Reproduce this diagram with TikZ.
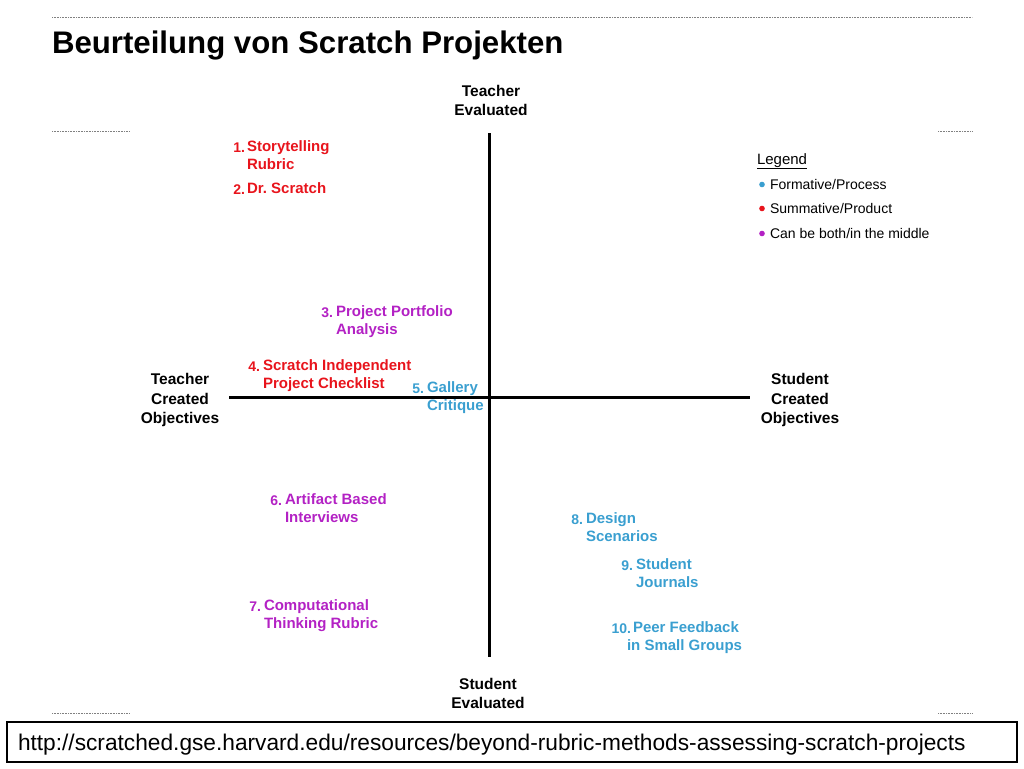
\documentclass[tikz,border=0pt]{standalone}
\usepackage{fontspec}
\setmainfont{Liberation Sans}
\definecolor{cred}{HTML}{E8141C}
\definecolor{cpurple}{HTML}{B321C4}
\definecolor{cblue}{HTML}{3A9FD0}
\begin{document}
\begin{tikzpicture}[x=1pt,y=-1pt,
  every node/.style={inner sep=0pt,outer sep=0pt},
  axlabel/.style={font=\bfseries\fontsize{15.5}{19.5}\selectfont,align=center,anchor=base},
  itemtext/.style={font=\bfseries\fontsize{15}{18}\selectfont,align=left,anchor=base west},
  itemnum/.style={font=\bfseries\fontsize{14}{18}\selectfont,anchor=base east},
  legtext/.style={font=\fontsize{14}{17}\selectfont,anchor=base west},
  dotline/.style={gray,line width=0.8pt,dash pattern=on 0.8pt off 0.8pt},
  axis/.style={line width=3pt}]
\useasboundingbox (0,0) rectangle (1024,768);
% dotted guides
\coordinate (t1) at (52,17); \coordinate (t2) at (972,17);
\draw[dotline] (t1) -- (t2);
\coordinate (l1a) at (52,131); \coordinate (l1b) at (130,131);
\coordinate (r1a) at (938,131); \coordinate (r1b) at (972,131);
\draw[dotline] (l1a) -- (l1b);
\draw[dotline] (r1a) -- (r1b);
\coordinate (l2a) at (52,713); \coordinate (l2b) at (130,713);
\coordinate (r2a) at (938,713); \coordinate (r2b) at (972,713);
\draw[dotline] (l2a) -- (l2b);
\draw[dotline] (r2a) -- (r2b);
% title
\node[anchor=base west,font=\bfseries\fontsize{31.2}{36}\selectfont] (title) at (52,53.5) {Beurteilung von Scratch Projekten};
% axes
\coordinate (vtop) at (489,133); \coordinate (vbot) at (489,657);
\coordinate (hleft) at (229,397); \coordinate (hright) at (750,397);
\draw[axis] (vtop) -- (vbot);
\draw[axis] (hleft) -- (hright);
% axis labels (base anchor = last line)
\node[axlabel] (te) at (491,115.5) {Teacher\\Evaluated};
\node[axlabel] (se) at (488,708.5) {Student\\Evaluated};
\node[axlabel] (tco) at (180,423.5) {Teacher\\Created\\Objectives};
\node[axlabel] (sco) at (800,423.5) {Student\\Created\\Objectives};
% items (base anchor = last line)
\node[itemnum,text=cred] (k1) at (245,152.5) {1.};
\node[itemtext,text=cred] (i1) at (247,169.5) {Storytelling\\Rubric};
\node[itemnum,text=cred] (k2) at (245,194.5) {2.};
\node[itemtext,text=cred] (i2) at (247,193.5) {Dr.\ Scratch};
\node[itemnum,text=cpurple] (k3) at (333,317.5) {3.};
\node[itemtext,text=cpurple] (i3) at (336,334.5) {Project Portfolio\\Analysis};
\node[itemnum,text=cred] (k4) at (260,371.5) {4.};
\node[itemtext,text=cred] (i4) at (263,388.5) {Scratch Independent\\Project Checklist};
\node[itemnum,text=cblue] (k5) at (424,393.5) {5.};
\node[itemtext,text=cblue] (i5) at (427,410.5) {Gallery\\Critique};
\node[itemnum,text=cpurple] (k6) at (282,505.5) {6.};
\node[itemtext,text=cpurple] (i6) at (285,522.5) {Artifact Based\\Interviews};
\node[itemnum,text=cpurple] (k7) at (261,611.5) {7.};
\node[itemtext,text=cpurple] (i7) at (264,628.5) {Computational\\Thinking Rubric};
\node[itemnum,text=cblue] (k8) at (583,524.5) {8.};
\node[itemtext,text=cblue] (i8) at (586,541.5) {Design\\Scenarios};
\node[itemnum,text=cblue] (k9) at (633,570.5) {9.};
\node[itemtext,text=cblue] (i9) at (636,587.5) {Student\\Journals};
\node[itemnum,text=cblue] (k10) at (631,633.5) {10.};
\node[itemtext,text=cblue] (i10) at (633,650.5) {Peer Feedback\\\hspace*{-6pt}in Small Groups};
% legend
\node[anchor=base west,font=\fontsize{15}{18}\selectfont] (leg) at (757,164) {\underline{Legend}};
\node[legtext] (lf) at (770,189) {Formative/Process};
\node[legtext] (ls) at (770,213) {Summative/Product};
\node[legtext] (lb) at (770,238) {Can be both/in the middle};
\fill[cblue] (762,184.5) circle (2.8);
\fill[cred] (762,208.5) circle (2.8);
\fill[cpurple] (762,233.5) circle (2.8);
% url box
\coordinate (ub1) at (7,722); \coordinate (ub2) at (1017,762);
\draw[line width=2.5pt] (ub1) rectangle (ub2);
\node[anchor=base west,font=\fontsize{22.7}{26}\selectfont] (url) at (18,750) {http://scratched.gse.harvard.edu/resources/beyond-rubric-methods-assessing-scratch-projects};
\end{tikzpicture}
\end{document}
